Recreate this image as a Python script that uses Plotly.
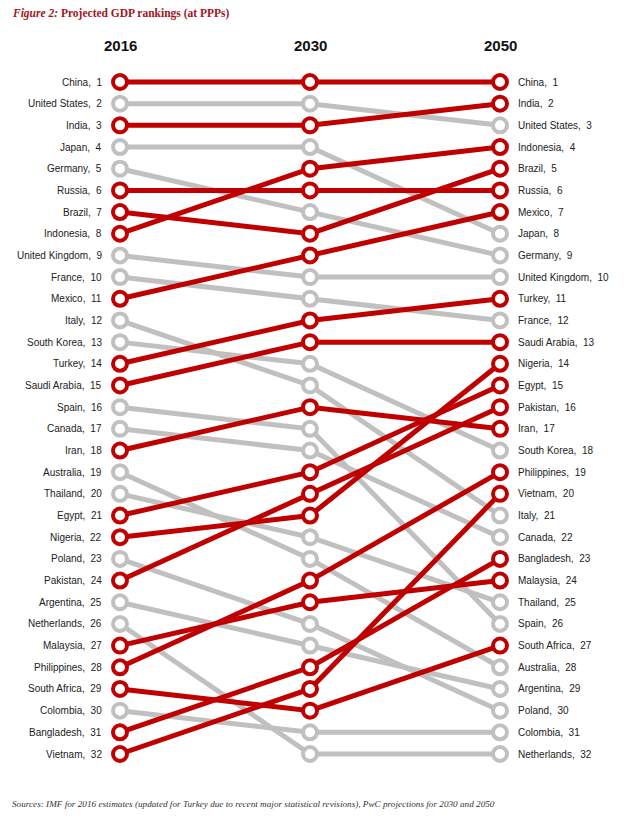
import plotly.graph_objects as go

years = ["2016", "2030", "2050"]

countries = ["China", "United States", "India", "Japan", "Germany", "Russia", "Brazil",
             "Indonesia", "United Kingdom", "France", "Mexico", "Italy", "South Korea",
             "Turkey", "Saudi Arabia", "Spain", "Canada", "Iran", "Australia", "Thailand",
             "Egypt", "Nigeria", "Poland", "Pakistan", "Argentina", "Netherlands",
             "Malaysia", "Philippines", "South Africa", "Colombia", "Bangladesh", "Vietnam"]

rank_2016 = [1, 2, 3, 4, 5, 6, 7, 8, 9, 10, 11, 12, 13, 14, 15, 16, 17, 18, 19, 20,
             21, 22, 23, 24, 25, 26, 27, 28, 29, 30, 31, 32]
rank_2030 = [1, 2, 3, 4, 7, 6, 8, 5, 10, 11, 9, 15, 14, 12, 13, 17, 18, 16, 23, 22,
             19, 21, 26, 20, 27, 32, 25, 24, 30, 31, 28, 29]
rank_2050 = [1, 3, 2, 8, 9, 6, 5, 4, 10, 12, 7, 21, 18, 11, 13, 26, 22, 17, 28, 25,
             15, 14, 30, 16, 29, 32, 24, 19, 27, 31, 23, 20]

emerging = ["China", "India", "Indonesia", "Brazil", "Russia", "Mexico", "Turkey",
            "Saudi Arabia", "Nigeria", "Egypt", "Pakistan", "Iran", "Philippines",
            "Vietnam", "Bangladesh", "Malaysia", "South Africa"]

RED = "#c00000"
GREY = "#c0c0c0"

# page offset compensation (browser body margin)
OFF = 8
W, H = 640, 821

fig = go.Figure()

order = [i for i, c in enumerate(countries) if c not in emerging] + \
        [i for i, c in enumerate(countries) if c in emerging]

for i in order:
    c = countries[i]
    col = RED if c in emerging else GREY
    fig.add_trace(go.Scatter(
        x=[0, 1, 2],
        y=[rank_2016[i], rank_2030[i], rank_2050[i]],
        mode="lines+markers",
        line=dict(color=col, width=5),
        marker=dict(size=14, color="white", line=dict(color=col, width=4)),
        hoverinfo="text", text=[c] * 3, showlegend=False,
    ))

label_font = dict(family="Liberation Sans, Arial, sans-serif", size=10, color="#222222")
for i, c in enumerate(countries):
    fig.add_annotation(x=0, y=rank_2016[i], xref="x", yref="y",
                       text=f"{c},  {rank_2016[i]}", showarrow=False,
                       xanchor="right", xshift=-16, font=label_font)

for i, c in enumerate(countries):
    fig.add_annotation(x=2, y=rank_2050[i], xref="x", yref="y",
                       text=f"{c},  {rank_2050[i]}", showarrow=False,
                       xanchor="left", xshift=16, font=label_font)

px_per_unit_x = 190.0
x0_px = 120.0 - OFF
px_per_rank = (754 - 82) / 31.0
y1_px = 82.0 - OFF
r_top = 1 - y1_px / px_per_rank
r_bot = r_top + H / px_per_rank
header_rank = 1 + ((45 - OFF) - y1_px) / px_per_rank

for k, yr in enumerate(years):
    fig.add_annotation(x=k, y=header_rank, xref="x", yref="y", text=f"<b>{yr}</b>",
                       showarrow=False, xanchor="center", yanchor="middle",
                       font=dict(family="Liberation Sans, Arial, sans-serif", size=15, color="#111111"))

fig.add_annotation(x=(10 - OFF) / W, y=1 - (13 - OFF) / H, xref="paper", yref="paper",
                   text="<b><i>Figure 2:</i> Projected GDP rankings (at PPPs)</b>",
                   showarrow=False, xanchor="left", yanchor="middle",
                   font=dict(family="Liberation Serif, Georgia, serif", size=11.5, color="#a3141c"))

fig.add_annotation(x=(10 - OFF) / W, y=1 - (804 - OFF) / H, xref="paper", yref="paper",
                   text="<i>Sources: IMF for 2016 estimates (updated for Turkey due to recent major statistical revisions), PwC projections for 2030 and 2050</i>",
                   showarrow=False, xanchor="left", yanchor="middle",
                   font=dict(family="Liberation Serif, Georgia, serif", size=9.2, color="#333333"))

fig.update_xaxes(range=[-x0_px / px_per_unit_x, (W - x0_px) / px_per_unit_x],
                 visible=False, fixedrange=True)
fig.update_yaxes(range=[r_bot, r_top], visible=False, fixedrange=True)

fig.update_layout(width=W, height=H, margin=dict(l=0, r=0, t=0, b=0),
                  plot_bgcolor="white", paper_bgcolor="white")

fig.write_html("out.html")
